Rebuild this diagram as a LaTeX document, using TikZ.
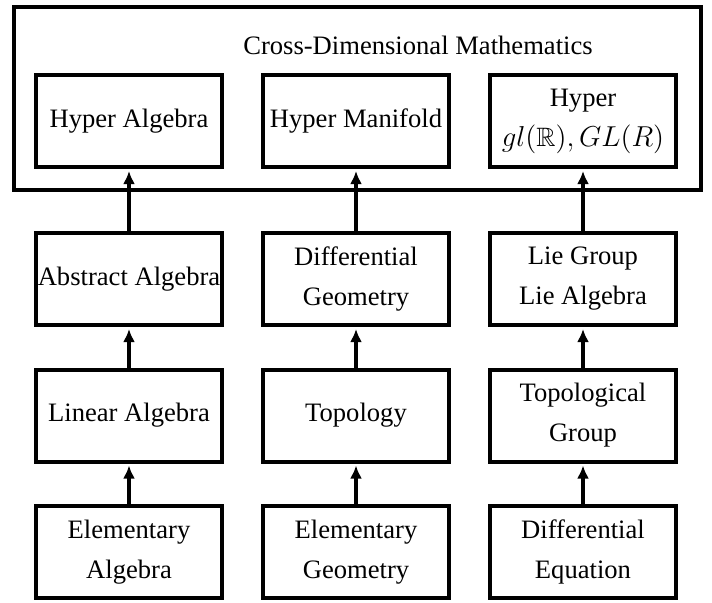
\documentclass[tikz,border=0pt]{standalone}
\usepackage{fontspec}
\setmainfont{Liberation Serif}
\usepackage{amssymb}
\usetikzlibrary{arrows.meta}
\begin{document}
\begin{tikzpicture}[x=0.5pt,y=-0.5pt,
  box/.style={draw, line width=2pt, minimum width=93pt, minimum height=46pt,
    inner sep=0pt, align=center, font=\fontsize{13.3}{20}\selectfont},
  arr/.style={line width=1.9pt, -{Latex[length=6.5pt,width=6pt]}, shorten >=1pt}]
\useasboundingbox (0,0) rectangle (712,602);
\node[draw, line width=2pt, minimum width=343.25pt, minimum height=91.25pt, inner sep=0pt] (outer) at (357.25,98.25) {};
\node[font=\fontsize{13.3}{20}\selectfont] (title) at (418,45) {Cross-Dimensional Mathematics};
\node[box] (ha) at (129,121) {Hyper Algebra};
\node[box] (hm) at (356,121) {Hyper Manifold};
\node[box] (hg) at (583,121) {Hyper\\$gl(\mathbb{R}), GL(R)$};
\node[box] (aa) at (129,279) {Abstract Algebra};
\node[box] (dg) at (356,279) {Differential\\Geometry};
\node[box] (lg) at (583,279) {Lie Group\\Lie Algebra};
\node[box] (la) at (129,415.5) {Linear Algebra};
\node[box] (tp) at (356,415.5) {Topology};
\node[box] (tg) at (583,415.5) {Topological\\Group};
\node[box] (ea) at (129,552) {Elementary\\Algebra};
\node[box] (eg) at (356,552) {Elementary\\Geometry};
\node[box] (de) at (583,552) {Differential\\Equation};
\draw[arr] (aa.north) -- (ha.south);
\draw[arr] (dg.north) -- (hm.south);
\draw[arr] (lg.north) -- (hg.south);
\draw[arr] (la.north) -- (aa.south);
\draw[arr] (tp.north) -- (dg.south);
\draw[arr] (tg.north) -- (lg.south);
\draw[arr] (ea.north) -- (la.south);
\draw[arr] (eg.north) -- (tp.south);
\draw[arr] (de.north) -- (tg.south);
\end{tikzpicture}
\end{document}
